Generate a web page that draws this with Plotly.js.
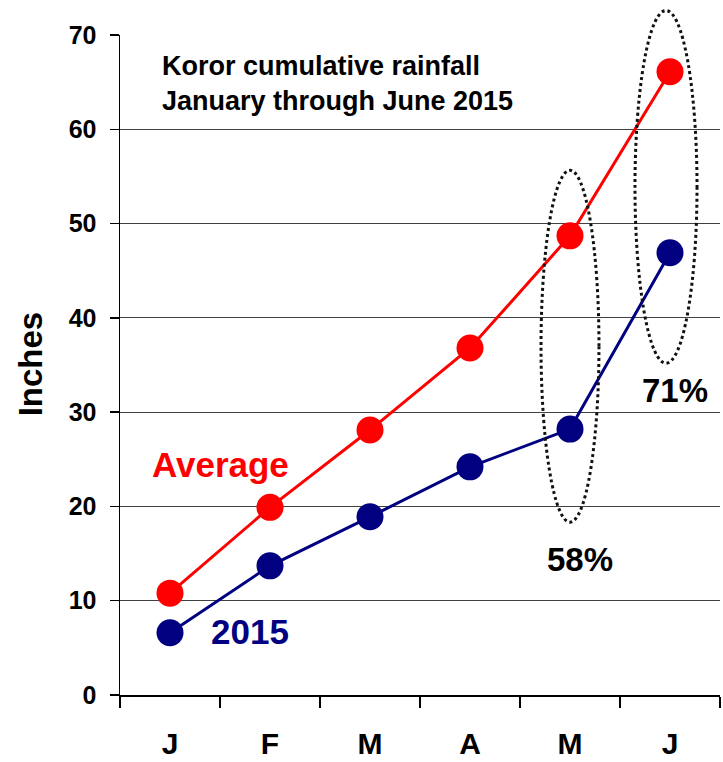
<!DOCTYPE html>
<html>
<head>
<meta charset="utf-8">
<script src="https://cdn.plot.ly/plotly-3.0.1.min.js"></script>
<style>
  html, body { margin: 0; padding: 0; background: #fff; }
  #chart { width: 723px; height: 762px; }
</style>
</head>
<body>
<div id="chart"></div>
<script>
// Month initials, January through June
const months = ['J', 'F', 'M', 'A', 'M', 'J'];
// Cumulative rainfall at Koror, inches
const averageRain = [10.8, 19.9, 28.1, 36.8, 48.7, 66.1];
const rain2015 = [6.6, 13.7, 18.9, 24.2, 28.2, 46.9];
const yTicks = [0, 10, 20, 30, 40, 50, 60, 70];

const idx = months.map((_, i) => i);
const boundaries = months.map((_, i) => i - 0.5).concat([months.length - 0.5]);

const font = { family: 'Liberation Sans, Arial, sans-serif', weight: 'bold', color: '#000' };
const RED = '#ff0000';
const NAVY = '#000080';

const traces = [
  {
    x: idx, y: averageRain, type: 'scatter', mode: 'lines+markers', name: 'Average',
    line: { color: RED, width: 3 },
    marker: { color: RED, size: 27 }
  },
  {
    x: idx, y: rain2015, type: 'scatter', mode: 'lines+markers', name: '2015',
    line: { color: NAVY, width: 3 },
    marker: { color: NAVY, size: 27 }
  }
];

// Percent of average reached by May and June 2015
const pctMay = Math.round(100 * rain2015[4] / averageRain[4]);
const pctJun = Math.round(100 * rain2015[5] / averageRain[5]);

// Dotted rings around May and June, in paper units so the June ring may rise above the top gridline
const ring = { type: 'circle', xref: 'paper', yref: 'paper', layer: 'above',
  line: { color: '#111', width: 3, dash: 'dot' }, fillcolor: 'rgba(0,0,0,0)' };

const layout = {
  width: 723, height: 762,
  margin: { l: 120, r: 3, t: 34.5, b: 67 },
  paper_bgcolor: '#fff', plot_bgcolor: '#fff',
  showlegend: false,
  xaxis: {
    range: [-0.5, months.length - 0.5],
    tickmode: 'array', tickvals: idx, ticktext: months,
    ticks: '', showgrid: false, zeroline: false,
    showline: true, linecolor: '#000', linewidth: 1.5,
    ticklabelstandoff: 21,
    tickfont: Object.assign({}, font, { size: 30 }),
    minor: { tickmode: 'array', tickvals: boundaries, ticks: 'outside', ticklen: 11, tickcolor: '#000', tickwidth: 1.5, showgrid: false }
  },
  yaxis: {
    range: [0, 70],
    tickmode: 'array', tickvals: yTicks,
    ticks: 'outside', ticklen: 9, tickcolor: '#000', tickwidth: 1.5,
    showgrid: true, gridcolor: '#404040', gridwidth: 1,
    zeroline: false, showline: true, linecolor: '#000', linewidth: 1.5,
    ticklabelstandoff: 8,
    tickfont: Object.assign({}, font, { size: 25 })
  },
  shapes: [
    Object.assign({}, ring, { x0: 0.7017, x1: 0.7983, y0: 0.2619, y1: 0.7949 }),
    Object.assign({}, ring, { x0: 0.8583, x1: 0.9617, y0: 0.5027, y1: 1.0371 })
  ],
  annotations: [
    { text: 'Koror cumulative rainfall<br>January through June 2015', xref: 'paper', yref: 'paper',
      x: 0.066, y: 0.9266, xanchor: 'left', yanchor: 'middle', align: 'left', showarrow: false,
      font: Object.assign({}, font, { size: 27 }) },
    { text: 'Inches', xref: 'paper', yref: 'paper', x: -0.15, y: 0.501, textangle: -90,
      xanchor: 'center', yanchor: 'middle', showarrow: false,
      font: Object.assign({}, font, { size: 33 }) },
    { text: 'Average', xref: 'x', yref: 'y', x: 0.5, y: 24.4, showarrow: false,
      font: Object.assign({}, font, { size: 35, color: RED }) },
    { text: '2015', xref: 'x', yref: 'y', x: 0.8, y: 6.7, showarrow: false,
      font: Object.assign({}, font, { size: 35, color: NAVY }) },
    { text: pctMay + '%', xref: 'x', yref: 'y', x: 4.1, y: 14.4, showarrow: false,
      font: Object.assign({}, font, { size: 33 }) },
    { text: pctJun + '%', xref: 'x', yref: 'y', x: 5.05, y: 32.3, showarrow: false,
      font: Object.assign({}, font, { size: 33 }) }
  ]
};

Plotly.newPlot('chart', traces, layout, { displayModeBar: false, staticPlot: true });
</script>
</body>
</html>
